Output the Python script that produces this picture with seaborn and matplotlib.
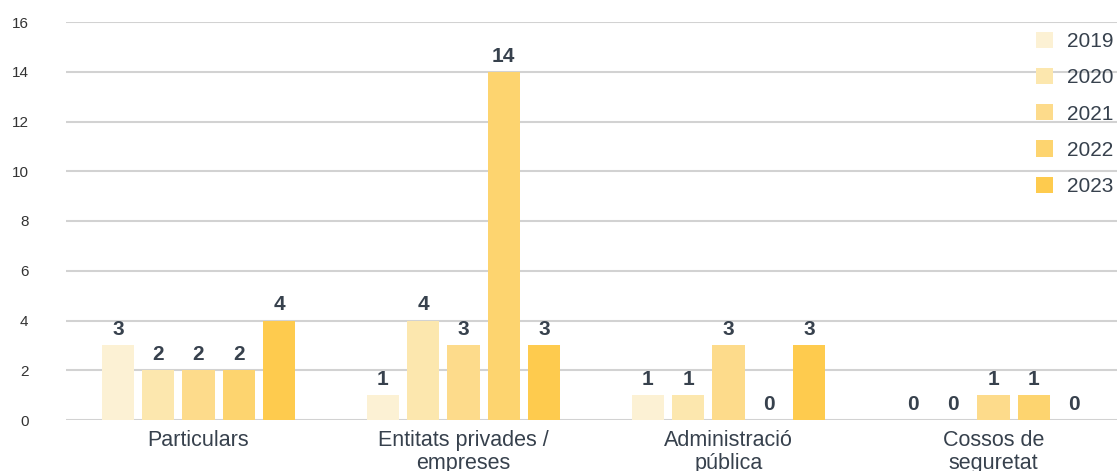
import matplotlib
matplotlib.use("Agg")
import matplotlib.pyplot as plt
import seaborn as sns
import pandas as pd

categories = ["Particulars", "Entitats privades /\nempreses", "Administració\npública", "Cossos de\nseguretat"]
years = ["2019", "2020", "2021", "2022", "2023"]
values_2019 = [3, 1, 1, 0]
values_2020 = [2, 4, 1, 0]
values_2021 = [2, 3, 3, 1]
values_2022 = [2, 14, 0, 1]
values_2023 = [4, 3, 3, 0]
yticks = [0, 2, 4, 6, 8, 10, 12, 14, 16]

series = [values_2019, values_2020, values_2021, values_2022, values_2023]
rows = []
for yr, vals in zip(years, series):
    for cat, v in zip(categories, vals):
        rows.append({"categoria": cat, "any": yr, "valor": v})
df = pd.DataFrame(rows)

palette = ["#FCF1D4", "#FCE7AE", "#FDDB8B", "#FDD46F", "#FECB4E"]
text_color = "#37414D"

sns.set_theme(style="white")
plt.rcParams["font.family"] = ["Liberation Sans", "DejaVu Sans"]

W, H = 1117, 471
fig = plt.figure(figsize=(W / 100, H / 100), dpi=100)
left, right = 66, 1126
bottom, top = 420, 22
ax = fig.add_axes([left / W, (H - bottom) / H, (right - left) / W, (bottom - top) / H])

sns.barplot(data=df, x="categoria", y="valor", hue="any", order=categories,
            hue_order=years, palette=palette, width=0.76, gap=0.2,
            saturation=1, linewidth=0, ax=ax, zorder=3)

ax.set_ylim(0, 16)
ax.set_xlim(-0.5, len(categories) - 0.5)
ax.set_yticks(yticks)
ax.yaxis.grid(True, color="#D2D2D2", linewidth=1.5, zorder=0)
ax.set_axisbelow(True)
for s in ax.spines.values():
    s.set_visible(False)
ax.set_xlabel("")
ax.set_ylabel("")
ax.tick_params(axis="y", length=0, pad=27, labelsize=11, labelcolor="#333333")
ax.tick_params(axis="x", length=0, pad=7.5, labelsize=15.5, labelcolor=text_color)
for lbl in ax.get_yticklabels():
    lbl.set_horizontalalignment("right")
for lbl in ax.get_xticklabels():
    lbl.set_linespacing(1.1)

for cont in ax.containers:
    ax.bar_label(cont, fmt="%d", padding=4.5, fontsize=15, fontweight="bold",
                 color=text_color)

leg = ax.legend(loc="upper right", bbox_to_anchor=((1123 - left) / (right - left), 1.0),
                frameon=False, fontsize=15, handlelength=0.82, handleheight=0.82,
                handletextpad=0.67, labelspacing=0.81, borderpad=0,
                borderaxespad=0.47)
for t in leg.get_texts():
    t.set_color(text_color)

fig.savefig("out.png", dpi=100)
